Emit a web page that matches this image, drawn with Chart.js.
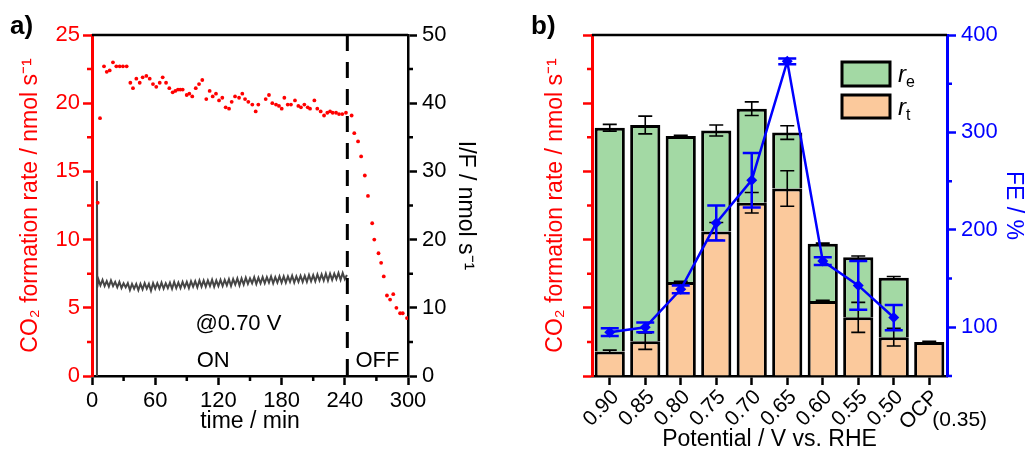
<!DOCTYPE html>
<html>
<head>
<meta charset="utf-8">
<script src="https://cdn.jsdelivr.net/npm/chart.js@4.4.1/dist/chart.umd.min.js"></script>
<style>
  html, body { margin: 0; padding: 0; background: #fff; }
  #wrap { position: relative; width: 1026px; height: 451px; }
  #chartA { position: absolute; left: 0; top: 0; }
  #chartB { position: absolute; left: 510px; top: 0; }
</style>
</head>
<body>
<div id="wrap">
  <canvas id="chartA" width="510" height="451"></canvas>
  <canvas id="chartB" width="516" height="451"></canvas>
</div>
<script>
// ---- panel a: CO2 rate (dots) and I/F (trace) vs time ----
var rateTimes = [5.4, 7.6, 11.4, 14.0, 16.8, 19.9, 23.1, 26.3, 29.4, 32.9, 36.4, 38.9, 42.1, 45.3, 48.1,
  51.6, 54.8, 57.9, 61.0, 64.3, 67.1, 70.3, 73.4, 76.6, 79.1, 81.6, 83.8, 86.1, 89.9, 92.4, 95.2, 98.5,
  101.6, 104.7, 108.5, 111.7, 114.6, 117.7, 120.6, 123.7, 126.9, 130.1, 132.6, 135.8, 139.6, 142.7,
  145.3, 148.4, 152.2, 155.4, 157.9, 164.9, 168.0, 171.2, 174.7, 177.5, 180.1, 182.6, 185.8, 188.9,
  192.7, 195.9, 198.4, 201.6, 204.8, 207.0, 211.1, 213.9, 217.1, 220.3, 223.4, 226.0, 228.5, 231.7,
  234.5, 237.6, 241.1, 246.5, 249.0, 252.6, 255.5, 259.0, 262.0, 266.0, 268.0, 272.0, 274.5, 277.0,
  280.0, 283.0, 286.0, 289.0, 292.5, 295.0, 299.0];
var rateValues = [12.7, 18.9, 22.7, 22.3, 22.4, 23.0, 22.7, 22.7, 22.7, 22.7, 21.5, 21.1, 21.8, 21.5, 21.9,
  22.0, 21.8, 21.4, 21.2, 21.5, 21.9, 21.5, 21.1, 20.8, 20.9, 21.0, 21.0, 21.0, 20.6, 20.7, 20.5, 21.1,
  21.4, 21.7, 20.3, 20.9, 20.5, 20.7, 20.2, 20.4, 19.7, 19.6, 20.1, 20.5, 20.4, 20.7,
  20.3, 20.1, 19.9, 19.4, 19.9, 20.3, 20.6, 20.0, 19.9, 19.8, 19.6, 20.4, 19.9, 19.9,
  20.2, 19.8, 19.7, 19.9, 19.7, 19.6, 20.2, 19.6, 19.4, 19.1, 19.3, 19.4, 19.3, 19.3,
  19.2, 19.2, 19.3, 19.1, 17.8, 17.2, 16.1, 14.7, 13.2, 11.2, 10.0, 9.0, 8.3, 7.3,
  5.9, 5.6, 6.0, 5.0, 4.6, 4.6, 4.25];

var currentTimes = [4.6, 4.7, 5.0,
  6, 8, 10, 12, 14, 16, 18, 20, 22, 24, 26, 28, 30, 32, 34, 36, 38, 40, 42, 44,
  46, 48, 50, 52, 54, 56, 58, 60, 62, 64, 66, 68, 70, 72, 74, 76, 78, 80, 82, 84,
  86, 88, 90, 92, 94, 96, 98, 100, 102, 104, 106, 108, 110, 112, 114, 116, 118, 120, 122, 124,
  126, 128, 130, 132, 134, 136, 138, 140, 142, 144, 146, 148, 150, 152, 154, 156, 158, 160, 162, 164,
  166, 168, 170, 172, 174, 176, 178, 180, 182, 184, 186, 188, 190, 192, 194, 196, 198, 200, 202, 204,
  206, 208, 210, 212, 214, 216, 218, 220, 222, 224, 226, 228, 230, 232, 234, 236, 238, 240, 242];
var currentValues = [0, 28.6, 13.0,
  14.2, 13.3, 14.1, 13.2, 13.9, 13.1, 14.0, 13.2, 13.8, 13.0,
  13.8, 12.9, 13.6, 13.0, 13.6, 12.6, 13.5, 12.8, 13.5, 12.6,
  13.5, 12.7, 13.6, 12.8, 13.5, 12.5, 13.6, 12.8, 13.6, 12.8,
  13.7, 12.8, 13.6, 12.9, 13.7, 12.8, 13.8, 12.9, 13.7, 12.9,
  13.8, 13.0, 13.8, 12.9, 13.9, 13.1, 13.9, 13.0, 14.0, 13.1,
  14.0, 13.1, 14.0, 13.2, 14.1, 13.1, 14.0, 13.2, 14.1, 13.2,
  14.1, 13.3, 14.2, 13.2, 14.2, 13.4, 14.3, 13.3, 14.3, 13.4,
  14.4, 13.5, 14.3, 13.6, 14.5, 13.5, 14.4, 13.6, 14.5, 13.6,
  14.5, 13.7, 14.6, 13.6, 14.5, 13.7, 14.6, 13.7, 14.6, 13.7,
  14.6, 13.8, 14.7, 13.7, 14.6, 13.8, 14.7, 13.8, 14.7, 13.8,
  14.8, 13.9, 14.8, 13.9, 14.9, 14.0, 14.9, 14.0, 15.0, 14.0,
  15.0, 14.1, 15.0, 14.2, 15.1, 14.1, 15.1, 14.2, 14.8];

var switchOffTime = 242.4;
var noteTexts = ['@0.70 V', 'ON', 'OFF'];
var noteTimes = [139, 115, 271];
var noteRates = [3.8, 1.1, 1.1];

// ---- panel b: rates and FE vs potential ----
var potentials = ['0.90', '0.85', '0.80', '0.75', '0.70', '0.65', '0.60', '0.55', '0.50', 'OCP'];
var rtValues = [1.8, 2.55, 6.9, 10.6, 12.7, 13.75, 5.5, 4.3, 2.85, 2.5];
var reValues = [16.4, 15.85, 10.7, 7.4, 6.9, 4.1, 4.2, 4.4, 4.35, null];
var totalErrors = [0.25, 0.65, 0.05, 0.4, 0.5, 0.5, 0.05, 0.1, 0.1, 0.05];
var rtErrors = [0.1, 0.6, 0.05, 0.65, 0.75, 1.3, 0.05, 1.1, 0.65, 0.05];
var feValues = [95, 100, 139, 207, 251, 373, 168, 143, 110, null];
var feErrors = [4, 5, 4, 18, 28, 3, 4, 25, 13, null];

var RED = '#ff0000', BLUE = '#0000ff', BLACK = '#000000', CLEAR = 'rgba(0,0,0,0)';
var GREEN_FILL = '#a3d9a4', ORANGE_FILL = '#fbc99c';
var FONT = 'Arial, "Liberation Sans", Helvetica, sans-serif';

Chart.defaults.font.family = FONT;
Chart.defaults.font.size = 22;
Chart.defaults.color = BLACK;

function isMultiple(v, step) {
  var r = v / step;
  return Math.abs(r - Math.round(r)) < 1e-6;
}
function majorLabel(step) {
  return function (v) { return isMultiple(v, step) ? v : ''; };
}
function majorTickColor(step, color) {
  return function (c) {
    if (!c.tick) return color;
    return isMultiple(c.tick.value, step) ? color : CLEAR;
  };
}
function fixWidth(w) { return function (s) { s.width = w; }; }
function fixHeight(h) { return function (s) { s.height = h; }; }

function drawMinorTicks(chart, id, majorStep, len, color, width) {
  var s = chart.scales[id], ctx = chart.ctx;
  ctx.save();
  ctx.strokeStyle = color;
  ctx.lineWidth = width;
  ctx.beginPath();
  s.ticks.forEach(function (t) {
    if (isMultiple(t.value, majorStep)) return;
    var p = s.getPixelForValue(t.value);
    if (s.position === 'left') { ctx.moveTo(s.right - len, p); ctx.lineTo(s.right, p); }
    else if (s.position === 'right') { ctx.moveTo(s.left, p); ctx.lineTo(s.left + len, p); }
    else { ctx.moveTo(p, s.top); ctx.lineTo(p, s.top + len); }
  });
  ctx.stroke();
  ctx.restore();
}

function topBorder(chart) {
  var a = chart.chartArea, ctx = chart.ctx;
  ctx.save();
  ctx.strokeStyle = BLACK;
  ctx.lineWidth = 2.5;
  ctx.beginPath();
  ctx.moveTo(a.left, a.top);
  ctx.lineTo(a.right, a.top);
  ctx.stroke();
  ctx.restore();
}

function titleFont() { return { size: 23, lineHeight: 1 }; }

// ---------- panel a ----------
var ratePoints = rateTimes.map(function (t, i) { return { x: t, y: rateValues[i] }; });
var currentPoints = currentTimes.map(function (t, i) { return { x: t, y: currentValues[i] }; });

var panelAExtras = {
  id: 'panelAExtras',
  afterDraw: function (chart) {
    var ctx = chart.ctx, a = chart.chartArea;
    var xs = chart.scales.x, yL = chart.scales.yL;
    topBorder(chart);
    drawMinorTicks(chart, 'yL', 5, 5, RED, 2.5);
    drawMinorTicks(chart, 'yR', 10, 5, BLACK, 2.5);
    drawMinorTicks(chart, 'x', 60, 5, BLACK, 2.5);

    // instrument switched off
    var xOff = xs.getPixelForValue(switchOffTime);
    ctx.save();
    ctx.strokeStyle = BLACK;
    ctx.lineWidth = 3;
    ctx.setLineDash([16, 11]);
    ctx.beginPath();
    ctx.moveTo(xOff, a.top);
    ctx.lineTo(xOff, a.bottom);
    ctx.stroke();
    ctx.restore();

    ctx.save();
    ctx.fillStyle = BLACK;
    ctx.textAlign = 'center';
    ctx.textBaseline = 'middle';
    ctx.font = '22px ' + FONT;
    noteTexts.forEach(function (txt, i) {
      ctx.fillText(txt, xs.getPixelForValue(noteTimes[i]), yL.getPixelForValue(noteRates[i]));
    });
    ctx.textAlign = 'left';
    ctx.font = 'bold 26px ' + FONT;
    ctx.fillText('a)', 10, 27);
    ctx.restore();
  }
};

new Chart(document.getElementById('chartA'), {
  type: 'scatter',
  data: {
    datasets: [
      {
        label: 'CO2 formation rate',
        data: ratePoints,
        yAxisID: 'yL',
        pointRadius: 1.9,
        pointBorderWidth: 0,
        backgroundColor: RED,
        borderColor: RED
      },
      {
        label: 'I/F',
        data: currentPoints,
        yAxisID: 'yR',
        showLine: true,
        pointRadius: 0,
        borderWidth: 2,
        borderColor: '#454545',
        backgroundColor: '#454545'
      }
    ]
  },
  options: {
    responsive: false,
    animation: false,
    layout: { padding: { top: 35, left: 0, right: 0, bottom: 0 } },
    plugins: { legend: { display: false }, tooltip: { enabled: false } },
    scales: {
      x: {
        type: 'linear', position: 'bottom', min: 0, max: 300,
        ticks: { stepSize: 30, autoSkip: false, maxRotation: 0, color: BLACK, padding: 3,
                 callback: majorLabel(60) },
        grid: { drawOnChartArea: false, tickLength: 9, tickWidth: 2.5,
                tickColor: majorTickColor(60, BLACK) },
        border: { color: BLACK, width: 2.5 },
        title: { display: true, text: 'time / min', color: BLACK, font: titleFont(),
                 padding: { top: 0, bottom: 18 } },
        afterFit: fixHeight(75)
      },
      yL: {
        type: 'linear', position: 'left', min: 0, max: 25,
        ticks: { stepSize: 2.5, autoSkip: false, color: RED, padding: 3,
                 callback: majorLabel(5) },
        grid: { drawOnChartArea: false, tickLength: 9, tickWidth: 2.5,
                tickColor: majorTickColor(5, RED) },
        border: { color: RED, width: 3 },
        title: { display: true, text: 'CO\u2082 formation rate / nmol s\u207B\u00B9', color: RED,
                 font: titleFont(), padding: { top: 19, bottom: 0 } },
        afterFit: fixWidth(92)
      },
      yR: {
        type: 'linear', position: 'right', min: 0, max: 50,
        ticks: { stepSize: 5, autoSkip: false, color: BLACK, padding: 5,
                 callback: majorLabel(10) },
        grid: { drawOnChartArea: false, tickLength: 9, tickWidth: 2.5,
                tickColor: majorTickColor(10, BLACK) },
        border: { color: BLACK, width: 2.5 },
        title: { display: true, text: 'I/F / nmol s\u207B\u00B9', color: BLACK,
                 font: titleFont(), padding: { top: 33, bottom: 0 } },
        afterFit: fixWidth(102)
      }
    }
  },
  plugins: [panelAExtras]
});

// ---------- panel b ----------
function errorBar(ctx, x, yTop, yBot, cap) {
  ctx.moveTo(x, yTop); ctx.lineTo(x, yBot);
  ctx.moveTo(x - cap / 2, yTop); ctx.lineTo(x + cap / 2, yTop);
  ctx.moveTo(x - cap / 2, yBot); ctx.lineTo(x + cap / 2, yBot);
}

var panelBExtras = {
  id: 'panelBExtras',
  afterDatasetDraw: function (chart, args) {
    if (args.index !== 1) return;
    // black error bars on the bars, drawn below the FE line
    var ctx = chart.ctx, xs = chart.scales.x, y = chart.scales.yL;
    ctx.save();
    ctx.strokeStyle = BLACK;
    ctx.lineWidth = 1.6;
    ctx.beginPath();
    potentials.forEach(function (p, i) {
      var x = xs.getPixelForValue(i);
      var total = rtValues[i] + (reValues[i] || 0);
      errorBar(ctx, x, y.getPixelForValue(total + totalErrors[i]), y.getPixelForValue(total - totalErrors[i]), 14);
      if (reValues[i] !== null) {
        errorBar(ctx, x, y.getPixelForValue(rtValues[i] + rtErrors[i]), y.getPixelForValue(rtValues[i] - rtErrors[i]), 14);
      }
    });
    ctx.stroke();
    ctx.restore();
  },
  afterDatasetsDraw: function (chart) {
    var ctx = chart.ctx, xs = chart.scales.x, y = chart.scales.yFE;
    ctx.save();
    ctx.strokeStyle = BLUE;
    ctx.lineWidth = 2.5;
    ctx.beginPath();
    feValues.forEach(function (v, i) {
      if (v === null) return;
      var x = xs.getPixelForValue(i);
      errorBar(ctx, x, y.getPixelForValue(v + feErrors[i]), y.getPixelForValue(v - feErrors[i]), 18);
    });
    ctx.stroke();
    ctx.restore();
  },
  afterDraw: function (chart) {
    var ctx = chart.ctx, xs = chart.scales.x;
    topBorder(chart);
    drawMinorTicks(chart, 'yL', 5, 5, RED, 2.5);
    drawMinorTicks(chart, 'yFE', 100, 5, BLUE, 2.5);

    ctx.save();
    ctx.fillStyle = BLACK;
    ctx.textBaseline = 'middle';
    ctx.textAlign = 'left';
    ctx.font = 'bold 26px ' + FONT;
    ctx.fillText('b)', 21, 27);

    // OCP potential below its tick label
    ctx.font = '21px ' + FONT;
    ctx.fillText('(0.35)', xs.getPixelForValue(potentials.length - 1) + 3, 420);

    // legend
    var lx = 332, lw = 48;
    var boxes = [[GREEN_FILL, 62, 24, 'e'], [ORANGE_FILL, 95, 23, 't']];
    boxes.forEach(function (b) {
      ctx.fillStyle = b[0];
      ctx.fillRect(lx, b[1], lw, b[2]);
      ctx.strokeStyle = BLACK;
      ctx.lineWidth = 3;
      ctx.strokeRect(lx, b[1], lw, b[2]);
      ctx.fillStyle = BLACK;
      ctx.textBaseline = 'alphabetic';
      ctx.font = 'italic 24px ' + FONT;
      ctx.fillText('r', lx + lw + 8, b[1] + 20);
      ctx.font = '16px ' + FONT;
      ctx.fillText(b[3], lx + lw + 16, b[1] + 25);
    });
    ctx.restore();
  }
};

new Chart(document.getElementById('chartB'), {
  type: 'bar',
  data: {
    labels: potentials,
    datasets: [
      {
        type: 'line',
        label: 'FE',
        data: feValues,
        yAxisID: 'yFE',
        borderColor: BLUE,
        backgroundColor: BLUE,
        borderWidth: 2.5,
        pointStyle: 'rectRot',
        pointRadius: 5.5,
        pointBorderWidth: 0,
        spanGaps: false
      },
      {
        label: 'r_t',
        data: rtValues,
        yAxisID: 'yL',
        backgroundColor: ORANGE_FILL,
        borderColor: BLACK,
        borderWidth: 3,
        barPercentage: 0.85,
        categoryPercentage: 1
      },
      {
        label: 'r_e',
        data: reValues,
        yAxisID: 'yL',
        backgroundColor: GREEN_FILL,
        borderColor: BLACK,
        borderWidth: 3,
        barPercentage: 0.85,
        categoryPercentage: 1
      }
    ]
  },
  options: {
    responsive: false,
    animation: false,
    layout: { padding: { top: 35, left: 0, right: 0, bottom: 0 } },
    plugins: { legend: { display: false }, tooltip: { enabled: false } },
    scales: {
      x: {
        stacked: true,
        ticks: { autoSkip: false, maxRotation: 45, minRotation: 45, color: BLACK, padding: 0,
                 labelOffset: 6, font: { size: 21 } },
        grid: { offset: false, drawOnChartArea: false, tickLength: 9, tickWidth: 2.5, tickColor: BLACK },
        border: { color: BLACK, width: 2.5 },
        title: { display: true, text: 'Potential / V vs. RHE', color: BLACK, font: titleFont(),
                 padding: { top: 0, bottom: 0 } },
        afterFit: fixHeight(75)
      },
      yL: {
        type: 'linear', position: 'left', stacked: true, min: 0, max: 25,
        ticks: { stepSize: 2.5, autoSkip: false, color: RED, padding: 0,
                 callback: function () { return ''; } },
        grid: { drawOnChartArea: false, tickLength: 9, tickWidth: 2.5,
                tickColor: majorTickColor(5, RED) },
        border: { color: RED, width: 3 },
        title: { display: true, text: 'CO\u2082 formation rate / nmol s\u207B\u00B9', color: RED,
                 font: titleFont(), padding: { top: 34, bottom: 0 } },
        afterFit: fixWidth(82)
      },
      yFE: {
        type: 'linear', position: 'right', min: 50, max: 400,
        ticks: { stepSize: 50, autoSkip: false, color: BLUE, padding: 5,
                 callback: majorLabel(100) },
        grid: { drawOnChartArea: false, tickLength: 9, tickWidth: 2.5,
                tickColor: majorTickColor(100, BLUE) },
        border: { color: BLUE, width: 3 },
        title: { display: true, text: 'FE / %', color: BLUE, font: titleFont(),
                 padding: { top: 1, bottom: 0 } },
        afterFit: fixWidth(79)
      }
    }
  },
  plugins: [panelBExtras]
});
</script>
</body>
</html>
